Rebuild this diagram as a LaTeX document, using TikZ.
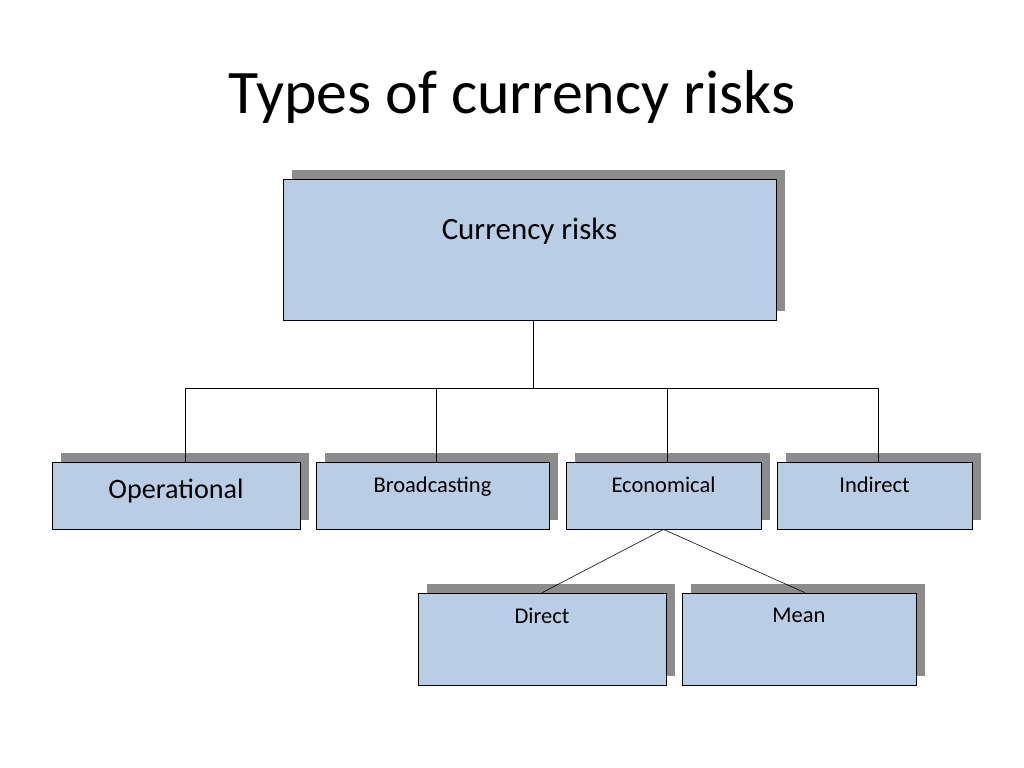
\documentclass[tikz,border=0pt]{standalone}
\usepackage{fontspec}
\setmainfont{Carlito}
\usetikzlibrary{shadows}
\definecolor{boxfill}{RGB}{185,205,229}
\tikzset{
  riskbox/.style={draw=black, fill=boxfill, rectangle, inner sep=0pt,
    drop shadow={shadow xshift=0.22cm, shadow yshift=0.22cm, fill=black!45, opacity=1}},
}
\begin{document}
\begin{tikzpicture}[x=0.025cm,y=-0.025cm]
  \useasboundingbox (0,0) rectangle (1024,768);
  \node (title) at (512,97) {\fontsize{44}{50}\selectfont Types of currency risks};

  \node[riskbox, minimum width=12.33cm, minimum height=3.52cm,
    label={[anchor=north,yshift=-0.85cm]north:\fontsize{22}{26}\selectfont Currency risks}] (cur) at (529.5,249.5) {};

  \node[riskbox, minimum width=6.2cm, minimum height=1.68cm,
    label={[anchor=north,yshift=-0.3cm]north:\fontsize{20}{24}\selectfont Operational}] (oper) at (176,495.5) {};
  \node[riskbox, minimum width=5.83cm, minimum height=1.68cm,
    label={[anchor=north,yshift=-0.25cm]north:\fontsize{16}{20}\selectfont Broadcasting}] (broad) at (432.5,495.5) {};
  \node[riskbox, minimum width=4.88cm, minimum height=1.68cm,
    label={[anchor=north,yshift=-0.25cm]north:\fontsize{16}{20}\selectfont Economical}] (econ) at (663.5,495.5) {};
  \node[riskbox, minimum width=4.88cm, minimum height=1.68cm,
    label={[anchor=north,yshift=-0.25cm]north:\fontsize{16}{20}\selectfont Indirect}] (indir) at (874.5,495.5) {};

  \node[riskbox, minimum width=6.2cm, minimum height=2.3cm,
    label={[anchor=north,yshift=-0.25cm]north:\fontsize{16}{20}\selectfont Direct}] (direct) at (542,639) {};
  \node[riskbox, minimum width=5.85cm, minimum height=2.3cm,
    label={[anchor=north,yshift=-0.25cm]north:\fontsize{16}{20}\selectfont Mean}] (mean) at (799,639) {};

  % connectors
  \coordinate (bus) at (533,388);
  \draw (cur.south -| bus) -- (bus);
  \draw (185,388) -- (878,388);
  \draw (185,388) -- (185,462 |- oper.north);
  \draw (436,388) -- (436,462 |- broad.north);
  \draw (667,388) -- (667,462 |- econ.north);
  \draw (878,388) -- (878,462 |- indir.north);
  \draw (econ.south) -- (direct.north);
  \draw (econ.south) -- ([xshift=0.15cm]mean.north);
\end{tikzpicture}
\end{document}
